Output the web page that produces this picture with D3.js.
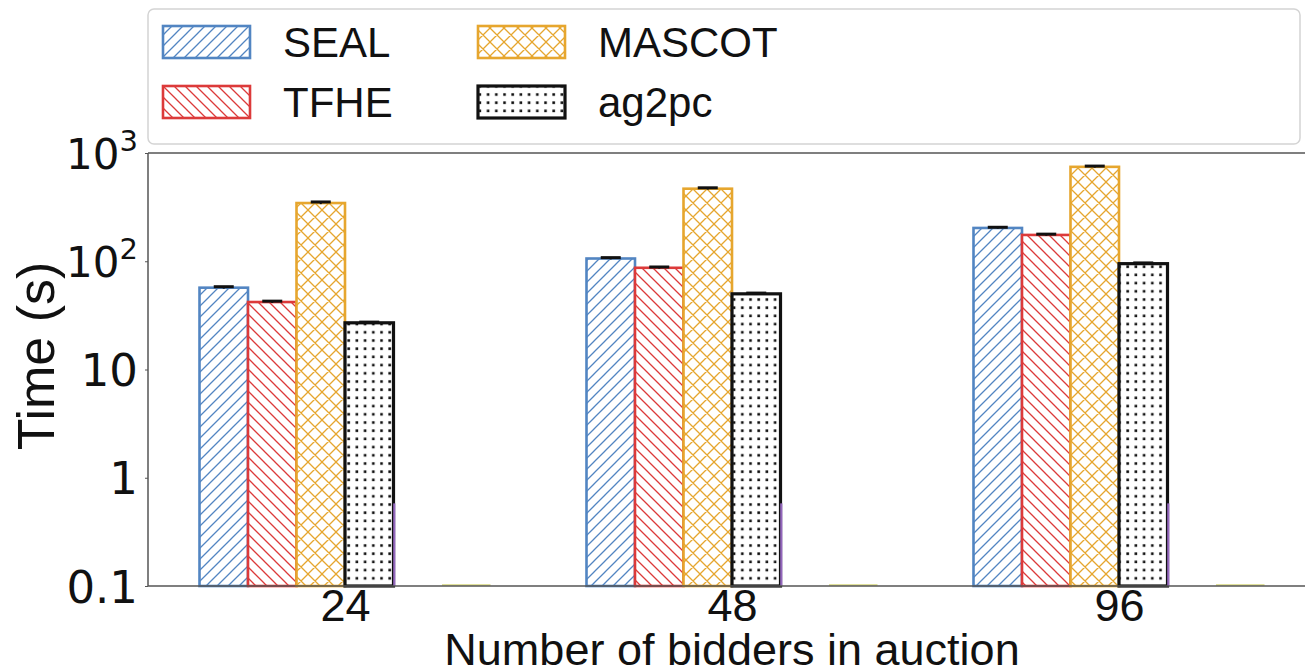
<!DOCTYPE html>
<html>
<head>
<meta charset="utf-8">
<script src="https://cdn.jsdelivr.net/npm/d3@7"></script>
<style>
  body { margin: 0; background: #fff; }
  text { font-family: "Liberation Sans", Arial, sans-serif; fill: #111; }
  .ytick { font-family: "DejaVu Sans", sans-serif; }
</style>
</head>
<body>
<svg id="chart" width="1305" height="672"></svg>
<script>
// Auction runtime per protocol, log-scaled seconds
const groups = ["24", "48", "96"];
const seriesNames = ["SEAL", "TFHE", "MASCOT", "ag2pc"];
const sealTime = [57, 106, 203];
const tfheTime = [42, 87, 175];
const mascotTime = [345, 468, 745];
const ag2pcTime = [27, 50, 95];
const sealErr = [1.2, 2, 3];
const tfheErr = [0.8, 1.5, 3];
const mascotErr = [8, 9, 12];
const ag2pcErr = [0.4, 0.8, 1.5];
// two unlabelled trailing slots in each group
const slot5Time = [0.58, 0.58, 0.58];
const slot6Time = [0.1, 0.1, 0.1];
const yTickValues = [0.1, 1, 10, 100, 1000];
const yTickLabels = ["0.1", "1", "10", "10^2", "10^3"];
const xLabel = "Number of bidders in auction";
const yLabel = "Time (s)";

const colors = { SEAL: "#5285c2", TFHE: "#dc3a3a", MASCOT: "#e6a62e", ag2pc: "#111111" };
const table = seriesNames.map((name, i) => ({
  name,
  values: [sealTime, tfheTime, mascotTime, ag2pcTime][i],
  errs: [sealErr, tfheErr, mascotErr, ag2pcErr][i]
}));

const svg = d3.select("#chart");
const plotLeft = 148, plotRight = 1316, plotTop = 153, plotBottom = 586;
const slotsPerGroup = 6;

const x = d3.scalePoint().domain(groups).range([345, 1119]);
const barW = 48.5;
const y = d3.scaleLog().domain([0.1, 1000]).range([plotBottom, plotTop]);

// hatch patterns
const defs = svg.append("defs");
function hatch(id, size, d, color, sw) {
  const p = defs.append("pattern").attr("id", id).attr("patternUnits", "userSpaceOnUse")
    .attr("width", size).attr("height", size);
  p.append("rect").attr("width", size).attr("height", size).attr("fill", "#fff");
  p.append("path").attr("d", d).attr("stroke", color).attr("stroke-width", sw).attr("fill", "none");
}
const s1 = 11;
hatch("pat-SEAL", s1, `M0,${s1} L${s1},0 M-2,2 L2,-2 M${s1-2},${s1+2} L${s1+2},${s1-2}`, colors.SEAL, 1.3);
hatch("pat-TFHE", s1, `M0,0 L${s1},${s1} M-2,${s1-2} L2,${s1+2} M${s1-2},-2 L${s1+2},2`, colors.TFHE, 1.3);
const s2 = 14;
hatch("pat-MASCOT", s2, `M0,${s2} L${s2},0 M-2,2 L2,-2 M${s2-2},${s2+2} L${s2+2},${s2-2} M0,0 L${s2},${s2} M-2,${s2-2} L2,${s2+2} M${s2-2},-2 L${s2+2},2`, colors.MASCOT, 1.3);
const dp = defs.append("pattern").attr("id", "pat-ag2pc").attr("patternUnits", "userSpaceOnUse")
  .attr("width", 8.2).attr("height", 8.2);
dp.append("rect").attr("width", 8.2).attr("height", 8.2).attr("fill", "#fff");
dp.append("rect").attr("x", 3).attr("y", 3).attr("width", 2.6).attr("height", 2.6).attr("fill", "#111");

const slotX = (g, i) => x(g) + (i - slotsPerGroup / 2) * barW;

// bars
table.forEach((s, si) => {
  const gSel = svg.append("g");
  gSel.selectAll("rect").data(groups).join("rect")
    .attr("x", g => slotX(g, si))
    .attr("y", (g, gi) => y(s.values[gi]))
    .attr("width", barW)
    .attr("height", (g, gi) => y(0.1) - y(s.values[gi]))
    .attr("fill", `url(#pat-${s.name})`)
    .attr("stroke", colors[s.name])
    .attr("stroke-width", s.name === "ag2pc" ? 3.2 : 2.6);
});

// trailing slots: only their edges show
svg.append("g").selectAll("line").data(groups).join("line")
  .attr("x1", g => slotX(g, 4) + 0.8).attr("x2", g => slotX(g, 4) + 0.8)
  .attr("y1", (g, gi) => y(slot5Time[gi])).attr("y2", plotBottom)
  .attr("stroke", "#9467bd").attr("stroke-width", 2.2);
svg.append("g").selectAll("line").data(groups).join("line")
  .attr("x1", g => slotX(g, 5)).attr("x2", g => slotX(g, 5) + barW)
  .attr("y1", (g, gi) => y(slot6Time[gi]) - 1).attr("y2", (g, gi) => y(slot6Time[gi]) - 1)
  .attr("stroke", "#bcbd22").attr("stroke-width", 1.5).attr("opacity", 0.6);

// error caps
table.forEach((s, si) => {
  const gSel = svg.append("g");
  groups.forEach((g, gi) => {
    const cx = slotX(g, si) + barW / 2;
    const v = s.values[gi], e = s.errs[gi];
    gSel.append("line").attr("x1", cx).attr("x2", cx)
      .attr("y1", y(v - e)).attr("y2", y(v + e)).attr("stroke", "#111").attr("stroke-width", 2);
    gSel.append("line").attr("x1", cx - 10).attr("x2", cx + 10)
      .attr("y1", y(v + e)).attr("y2", y(v + e)).attr("stroke", "#111").attr("stroke-width", 3);
  });
});

// frame
const spine = "#555";
svg.append("line").attr("x1", plotLeft).attr("x2", plotRight).attr("y1", plotTop).attr("y2", plotTop).attr("stroke", spine).attr("stroke-width", 1.5);
svg.append("line").attr("x1", plotLeft).attr("x2", plotRight).attr("y1", plotBottom).attr("y2", plotBottom).attr("stroke", spine).attr("stroke-width", 1.5);
svg.append("line").attr("x1", plotLeft).attr("x2", plotLeft).attr("y1", plotTop).attr("y2", plotBottom).attr("stroke", spine).attr("stroke-width", 1.5);

// y axis
const yAxis = d3.axisLeft(y).tickValues(yTickValues).tickSize(3).tickFormat(() => "");
const yg = svg.append("g").attr("transform", `translate(${plotLeft},0)`).call(yAxis);
yg.select(".domain").remove();
yg.selectAll(".tick line").attr("stroke", spine);
yg.selectAll(".tick").each(function (d, i) {
  const lab = yTickLabels[i];
  const t = d3.select(this).append("text").attr("class", "ytick")
    .attr("x", -10).attr("dy", "0.36em").attr("text-anchor", "end").attr("fill", "#111");
  if (lab.includes("^")) {
    const [base, ex] = lab.split("^");
    t.attr("font-size", 42);
    t.append("tspan").text(base);
    t.append("tspan").attr("font-size", 29).attr("dy", "-0.62em").text(ex);
  } else {
    t.attr("font-size", 45).text(lab);
  }
});

// x axis
const xAxis = d3.axisBottom(x).tickSize(0).tickPadding(0);
const xg = svg.append("g").attr("transform", `translate(0,${plotBottom})`).call(xAxis);
xg.select(".domain").remove();
xg.selectAll(".tick text").attr("font-size", 45).attr("y", 35).attr("dy", 0)
  .attr("font-family", "Liberation Sans, Arial, sans-serif").attr("fill", "#111");

svg.append("text").attr("x", 732).attr("y", 665).attr("text-anchor", "middle")
  .attr("font-size", 45).text(xLabel);
svg.append("text").attr("transform", "translate(54,356) rotate(-90)").attr("text-anchor", "middle")
  .attr("font-size", 52).text(yLabel);

// legend
const lg = svg.append("g");
lg.append("rect").attr("x", 148).attr("y", 9).attr("width", 1152).attr("height", 135)
  .attr("rx", 6).attr("fill", "#fff").attr("stroke", "#d4d4d4").attr("stroke-width", 1.5);
const legendPos = [
  { px: 163, py: 26 }, { px: 163, py: 86 }, { px: 478, py: 26 }, { px: 478, py: 86 }
];
table.forEach((s, i) => {
  const p = legendPos[i];
  lg.append("rect").attr("x", p.px).attr("y", p.py).attr("width", 87).attr("height", 32)
    .attr("fill", `url(#pat-${s.name})`).attr("stroke", colors[s.name])
    .attr("stroke-width", s.name === "ag2pc" ? 3.2 : 2.6);
  lg.append("text").attr("x", p.px + 120).attr("y", p.py + 31).attr("font-size", 42).text(s.name);
});
</script>
</body>
</html>
